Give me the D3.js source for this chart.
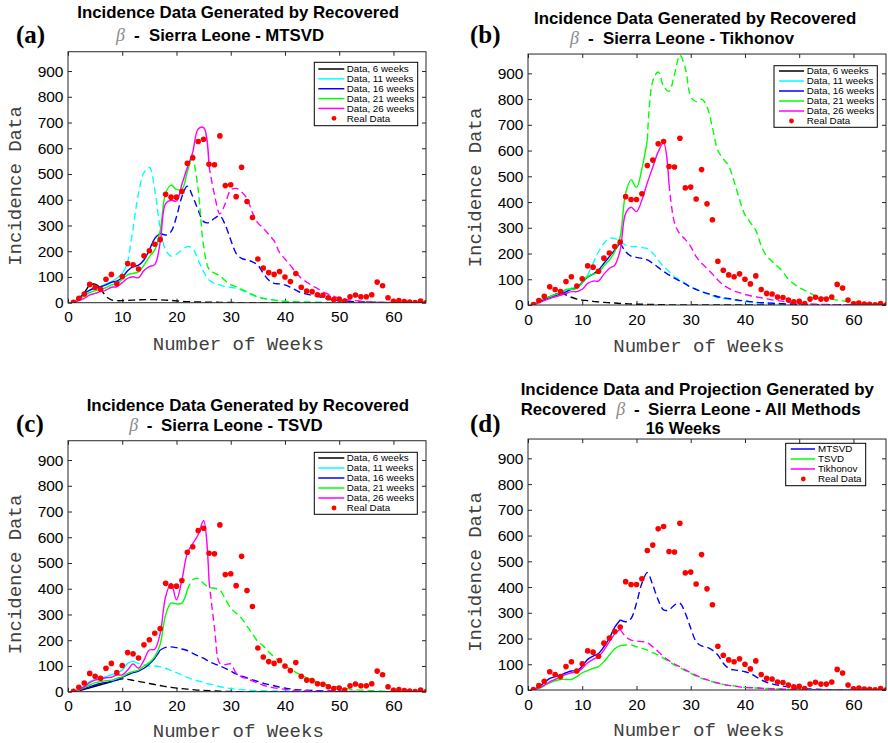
<!DOCTYPE html>
<html><head><meta charset="utf-8">
<script src="https://cdn.jsdelivr.net/npm/d3@7"></script>
<style>body{margin:0;background:#fff}svg{display:block}</style>
</head><body>
<svg id="chart" width="888" height="743"></svg>
<script>
// ---------------- DATA ----------------
const weeks = d3.range(1, 67);
const yTicks = [0, 100, 200, 300, 400, 500, 600, 700, 800, 900];
const xTicks = [0, 10, 20, 30, 40, 50, 60];

const realData = [2, 17, 34, 71, 60, 52, 91, 110, 74, 102, 152, 147, 131, 182, 202, 227, 245, 421, 410, 410, 432, 542, 563, 626, 635, 538, 536, 648, 455, 458, 412, 526, 393, 331, 170, 135, 117, 110, 121, 100, 82, 113, 60, 45, 43, 31, 29, 19, 12, 14, 6, 23, 30, 23, 23, 31, 80, 66, 19, 5, 8, 4, 3, 1, 6, 0];

// (a) MTSVD
const mtsvd6  = [0,15,38,68,72,56,25,11,8,8,9,10,11,12,12,12,11,10,9,7,5,4,3,3,2,2,2,1,1,1,0,0,0,0,0,0,0,0,0,0,0,0,0,0,0,0,0,0,0,0,0,0,0,0,0,0,0,0,0,0,0,0,0,0,0,0];
const mtsvd11 = [0,19,34,47,56,62,73,82,95,114,153,289,425,505,526,438,289,205,181,189,205,218,211,166,120,88,75,69,62,60,56,49,39,30,23,17,13,10,8,6,5,4,3,3,2,2,2,1,1,1,1,0,0,0,0,0,0,0,0,0,0,0,0,0,0,0];
const mtsvd16 = [0,17,36,49,58,62,69,79,84,98,124,140,146,166,205,250,270,263,276,334,412,453,412,360,315,311,328,337,302,244,192,172,166,159,146,114,88,75,73,69,60,49,39,34,28,25,19,14,10,8,6,5,4,3,3,2,2,1,1,1,1,0,0,0,0,0];
const mtsvd21 = [0,13,26,39,47,52,58,69,73,91,108,114,120,146,179,205,280,425,457,440,440,510,578,440,220,130,115,105,85,70,62,52,42,32,22,17,13,10,7,5,4,3,2,2,1,1,1,0,0,0,0,0,0,0,0,0,0,0,0,0,0,0,0,0,0,0];
const mtsvd26 = [0,8,17,30,36,43,49,60,62,78,95,101,97,125,140,148,235,385,398,395,460,525,585,675,680,530,420,345,385,438,444,430,405,350,310,290,265,240,195,170,145,118,95,80,66,55,42,33,25,18,14,10,8,6,4,3,2,1,1,0,0,0,0,0,0,0];

// (b) Tikhonov
const tikh6  = [0,13,22,32,41,48,39,30,23,19,17,14,12,10,9,8,6,5,4,3,3,2,2,1,1,0,0,0,0,0,0,0,0,0,0,0,0,0,0,0,0,0,0,0,0,0,0,0,0,0,0,0,0,0,0,0,0,0,0,0,0,0,0,0,0,0];
const tikh11 = [0,13,23,32,39,45,58,65,71,91,117,162,207,240,259,258,246,233,227,227,223,219,201,175,149,130,110,97,84,71,61,52,43,36,28,25,22,19,16,13,10,9,8,7,6,5,4,4,3,3,2,2,2,1,1,1,1,0,0,0,0,0,0,0,0,0];
const tikh16 = [0,12,21,30,36,43,51,61,66,87,108,120,136,162,188,214,242,207,190,185,181,175,162,146,130,117,104,93,82,69,61,52,45,39,32,28,25,21,18,16,13,10,9,8,7,6,5,4,3,3,2,2,1,1,1,0,0,0,0,0,0,0,0,0,0,0];
const tikh21 = [0,16,25,32,40,47,61,61,65,87,110,120,126,152,175,207,266,434,486,457,530,640,870,905,850,830,895,970,920,810,790,800,770,690,600,568,540,480,410,350,320,290,230,190,170,150,128,100,82,68,57,46,36,30,26,23,19,16,14,12,9,7,6,5,4,4];
const tikh26 = [0,9,17,25,32,38,45,52,52,61,84,93,93,120,142,155,214,356,380,363,408,475,535,595,630,470,320,276,255,227,188,162,142,120,97,78,65,54,48,41,36,32,28,24,20,17,14,11,9,7,5,4,3,2,2,1,1,0,0,0,0,0,0,0,0,0];

// (c) TSVD
const tsvd6  = [0,4,9,15,21,27,33,39,45,50,48,44,40,36,32,28,24,20,17,14,12,10,8,6,5,4,3,2,1,1,0,0,0,0,0,0,0,0,0,0,0,0,0,0,0,0,0,0,0,0,0,0,0,0,0,0,0,0,0,0,0,0,0,0,0,0];
const tsvd11 = [0,9,22,39,48,54,58,65,74,84,110,119,110,104,100,100,97,91,82,74,65,56,48,42,35,30,25,19,16,12,9,8,6,5,4,4,3,3,2,2,2,2,1,1,1,0,0,0,0,0,0,0,0,0,0,0,0,0,0,0,0,0,0,0,0,0];
const tsvd16 = [0,4,12,19,26,32,36,39,45,56,65,74,80,91,108,130,162,172,174,171,166,160,149,139,130,117,108,100,91,80,69,61,54,46,40,33,28,23,18,14,11,8,7,6,5,4,3,3,2,2,1,1,1,0,0,0,0,0,0,0,0,0,0,0,0,0];
const tsvd21 = [0,6,16,26,35,39,43,45,52,58,71,78,84,100,113,136,185,298,344,341,344,395,435,440,420,405,402,395,360,325,305,285,255,225,195,178,155,135,118,100,88,75,64,54,45,38,31,26,21,17,13,10,8,6,5,4,3,2,1,1,0,0,0,0,0,0];
const tsvd26 = [0,9,19,35,45,49,54,56,65,65,84,108,91,123,162,165,227,370,421,357,434,538,575,610,665,430,250,110,105,108,72,58,50,42,33,25,19,15,12,9,7,5,4,3,2,2,1,1,0,0,0,0,0,0,0,0,0,0,0,0,0,0,0,0,0,0];

// (d) all methods, 16 weeks
const all16Mtsvd = [0,13,28,45,52,58,67,74,75,93,119,132,142,168,201,244,272,265,278,337,415,456,408,350,311,311,330,337,298,240,188,171,166,155,136,104,84,78,75,71,65,52,40,30,24,19,15,12,9,7,5,4,3,2,2,1,1,1,0,0,0,0,0,0,0,0];
const all16Tsvd  = [0,6,16,28,36,41,41,41,52,67,75,84,91,110,136,160,172,175,175,168,162,155,145,136,123,110,97,87,75,65,54,45,39,32,26,22,18,16,13,10,9,8,7,6,5,4,3,3,2,2,1,1,1,0,0,0,0,0,0,0,0,0,0,0,0,0];
const all16Tikh  = [0,9,19,32,41,52,61,67,70,84,106,119,130,155,188,218,236,207,194,190,188,184,168,149,130,114,101,91,78,67,57,47,40,33,27,22,18,15,12,10,9,8,7,6,5,4,3,3,2,2,1,1,1,0,0,0,0,0,0,0,0,0,0,0,0,0];

const weekNames = ["Data, 6 weeks", "Data, 11 weeks", "Data, 16 weeks", "Data, 21 weeks", "Data, 26 weeks"];
const methodNames = ["MTSVD", "TSVD", "Tikhonov"];
// last week drawn solid (fit window); projection dashed after it
const solidEndA = [6, 11, 17, 23, 26];
const solidEndB = [6, 11, 17, 22, 26];
const solidEndC = [7, 12, 17, 22, 26];
const solidEndD = [17, 17, 17];

// ---------------- STYLE / LAYOUT ----------------
const colors5 = ["#000000", "#00ffff", "#0000ff", "#00ff00", "#ff00ff"];
const colors3 = ["#0000ff", "#00ff00", "#ff00ff"];
const pxPer100 = 25.74;

const panels = [
  { box: {x0: 68, x1: 426, yb: 302.7},
    series: [mtsvd6, mtsvd11, mtsvd16, mtsvd21, mtsvd26], names: weekNames, colors: colors5, ends: solidEndA,
    legend: {x: 314.3, y: 62.3, w: 103.4, h: 63.4, row0: 69, step: 9.86, lx0: 318.3, lx1: 344.3, tx: 346.7, dot: 334},
    label: {t: "(a)", x: 16, y: 42.7},
    title: [{t: "Incidence Data Generated by Recovered", x: 77.3, w: 321.7, y: 18.3}],
    line2: {y: 40.7, beta: 116, dash: 134, rest: 149, restW: 175, text: "Sierra Leone - MTSVD"},
    ylab: {x: 21, y: 186}, xlab: {x: 238.3, y: 350} },
  { box: {x0: 528, x1: 886, yb: 305},
    series: [tikh6, tikh11, tikh16, tikh21, tikh26], names: weekNames, colors: colors5, ends: solidEndB,
    legend: {x: 774, y: 65.7, w: 103.3, h: 61.6, row0: 71, step: 10, lx0: 779, lx1: 804, tx: 806.7, dot: 791.5},
    label: {t: "(b)", x: 470, y: 43.3},
    title: [{t: "Incidence Data Generated by Recovered", x: 534, w: 322.3, y: 24.3}],
    line2: {y: 44, beta: 570, dash: 588, rest: 603, restW: 191, text: "Sierra Leone - Tikhonov"},
    ylab: {x: 481, y: 187.5}, xlab: {x: 698.8, y: 351.7} },
  { box: {x0: 68, x1: 426, yb: 691.7},
    series: [tsvd6, tsvd11, tsvd16, tsvd21, tsvd26], names: weekNames, colors: colors5, ends: solidEndC,
    legend: {x: 314.3, y: 452.3, w: 103, h: 62, row0: 458, step: 10, lx0: 318.3, lx1: 344.3, tx: 346.7, dot: 334},
    label: {t: "(c)", x: 16, y: 431.7},
    title: [{t: "Incidence Data Generated by Recovered", x: 86.7, w: 322.3, y: 411}],
    line2: {y: 430.7, beta: 129.3, dash: 146.7, rest: 161, restW: 161.7, text: "Sierra Leone - TSVD"},
    ylab: {x: 21, y: 574.5}, xlab: {x: 238.3, y: 736.5} },
  { box: {x0: 528, x1: 886, yb: 690},
    series: [all16Mtsvd, all16Tsvd, all16Tikh], names: methodNames, colors: colors3, ends: solidEndD,
    legend: {x: 785.7, y: 443.3, w: 80, h: 42.4, row0: 449, step: 10, lx0: 790.7, lx1: 815, tx: 818, dot: 803.3},
    label: {t: "(d)", x: 470, y: 431.7},
    title: [{t: "Incidence Data and Projection Generated by", x: 520.7, w: 353.3, y: 395},
            {t: "Recovered", x: 520.7, w: 85.6, y: 415},
            {t: "16 Weeks", x: 645.7, w: 75, y: 434}],
    line2: {y: 415, beta: 616.3, dash: 634, rest: 648, restW: 212.7, text: "Sierra Leone - All Methods"},
    ylab: {x: 481, y: 572}, xlab: {x: 698.8, y: 735.5} }
];

const svg = d3.select("#chart");
const SANS = "'Liberation Sans', Arial, sans-serif";
const MONO = "'Liberation Mono', 'Courier New', monospace";
const SERIF = "'Liberation Serif', 'Times New Roman', serif";
const AX = "#262626";

panels.forEach((p, pi) => {
  const b = p.box;
  const x = d3.scaleLinear().domain([0, 66]).range([b.x0, b.x1]);
  const y = d3.scaleLinear().domain([0, 975]).range([b.yb, b.yb - 9.75 * pxPer100]);
  const yt = y(975);
  const g = svg.append("g");

  const clipId = "clip" + pi;
  svg.append("clipPath").attr("id", clipId).append("rect")
    .attr("x", b.x0).attr("y", yt).attr("width", b.x1 - b.x0).attr("height", b.yb - yt);

  // axes
  const styleAxis = sel => {
    sel.select(".domain").remove();
    sel.selectAll(".tick line").attr("stroke", AX).attr("stroke-width", 1);
    sel.selectAll(".tick text").attr("fill", "#000").style("font-family", SANS).style("font-size", "15.5px");
  };
  g.append("g").attr("transform", `translate(${b.x0},0)`)
    .call(d3.axisLeft(y).tickValues(yTicks).tickSizeInner(-4).tickSizeOuter(0).tickPadding(4.5)).call(styleAxis);
  g.append("g").attr("transform", `translate(${b.x1},0)`)
    .call(d3.axisRight(y).tickValues(yTicks).tickSizeInner(-4).tickSizeOuter(0).tickFormat("")).call(styleAxis);
  g.append("g").attr("transform", `translate(0,${b.yb})`)
    .call(d3.axisBottom(x).tickValues(xTicks).tickSizeInner(-4).tickSizeOuter(0).tickPadding(8.8)).call(styleAxis);
  g.append("g").attr("transform", `translate(0,${yt})`)
    .call(d3.axisTop(x).tickValues(xTicks).tickSizeInner(-4).tickSizeOuter(0).tickFormat("")).call(styleAxis);

  const plot = g.append("g").attr("clip-path", `url(#${clipId})`);
  const line = d3.line().x(d => x(d[0])).y(d => y(d[1])).curve(d3.curveCatmullRom.alpha(0.5));

  p.series.forEach((vals, si) => {
    const pts = weeks.map((w, i) => [w, vals[i]]);
    const end = p.ends[si];
    plot.append("path").attr("d", line(pts.filter(d => d[0] <= end)))
      .attr("fill", "none").attr("stroke", p.colors[si]).attr("stroke-width", 1.4);
    plot.append("path").attr("d", line(pts.filter(d => d[0] >= end)))
      .attr("fill", "none").attr("stroke", p.colors[si]).attr("stroke-width", 1.4)
      .attr("stroke-dasharray", "7,4");
  });

  plot.selectAll("circle.rd").data(realData).enter().append("circle")
    .attr("cx", (d, i) => x(weeks[i])).attr("cy", d => y(d)).attr("r", 2.8).attr("fill", "#ff0000");

  // frame
  g.append("rect").attr("x", b.x0).attr("y", yt).attr("width", b.x1 - b.x0).attr("height", b.yb - yt)
    .attr("fill", "none").attr("stroke", AX).attr("stroke-width", 1);

  // legend
  const L = p.legend;
  const lg = g.append("g");
  lg.append("rect").attr("x", L.x).attr("y", L.y).attr("width", L.w).attr("height", L.h)
    .attr("fill", "#fff").attr("stroke", "#000").attr("stroke-width", 1);
  const entries = p.names.map((n, i) => ({name: n, color: p.colors[i], dot: false}))
    .concat([{name: "Real Data", color: "#ff0000", dot: true}]);
  entries.forEach((e, i) => {
    const ry = L.row0 + i * L.step;
    if (e.dot) {
      lg.append("circle").attr("cx", L.dot).attr("cy", ry).attr("r", 2.4).attr("fill", e.color);
    } else {
      lg.append("line").attr("x1", L.lx0).attr("x2", L.lx1).attr("y1", ry).attr("y2", ry)
        .attr("stroke", e.color).attr("stroke-width", 1.5);
    }
    lg.append("text").attr("x", L.tx).attr("y", ry).attr("dy", "0.35em").text(e.name)
      .style("font-family", SANS).style("font-size", "9.8px").attr("fill", "#000");
  });

  // titles
  p.title.forEach(t => {
    g.append("text").attr("x", t.x).attr("y", t.y).text(t.t)
      .attr("textLength", t.w).attr("lengthAdjust", "spacingAndGlyphs")
      .style("font-family", SANS).style("font-size", "17px").style("font-weight", "bold");
  });
  const l2 = p.line2;
  g.append("text").attr("x", l2.beta).attr("y", l2.y).text("\u03B2")
    .style("font-family", SERIF).style("font-style", "italic").style("font-size", "18px").attr("fill", "#8a8a8a");
  g.append("text").attr("x", l2.dash).attr("y", l2.y).text("-")
    .style("font-family", SANS).style("font-size", "17px").style("font-weight", "bold");
  g.append("text").attr("x", l2.rest).attr("y", l2.y).text(l2.text)
    .attr("textLength", l2.restW).attr("lengthAdjust", "spacingAndGlyphs")
    .style("font-family", SANS).style("font-size", "17px").style("font-weight", "bold");

  // panel label
  g.append("text").attr("x", p.label.x).attr("y", p.label.y).text(p.label.t)
    .style("font-family", SERIF).style("font-size", "25px").style("font-weight", "bold");

  // axis labels
  g.append("text").attr("transform", `translate(${p.ylab.x},${p.ylab.y}) rotate(-90)`)
    .attr("text-anchor", "middle").text("Incidence Data")
    .style("font-family", MONO).style("font-size", "19px").attr("fill", "#404040");
  g.append("text").attr("x", p.xlab.x).attr("y", p.xlab.y).attr("text-anchor", "middle").text("Number of Weeks")
    .style("font-family", MONO).style("font-size", "19px").attr("fill", "#404040");
});
</script>
</body></html>
